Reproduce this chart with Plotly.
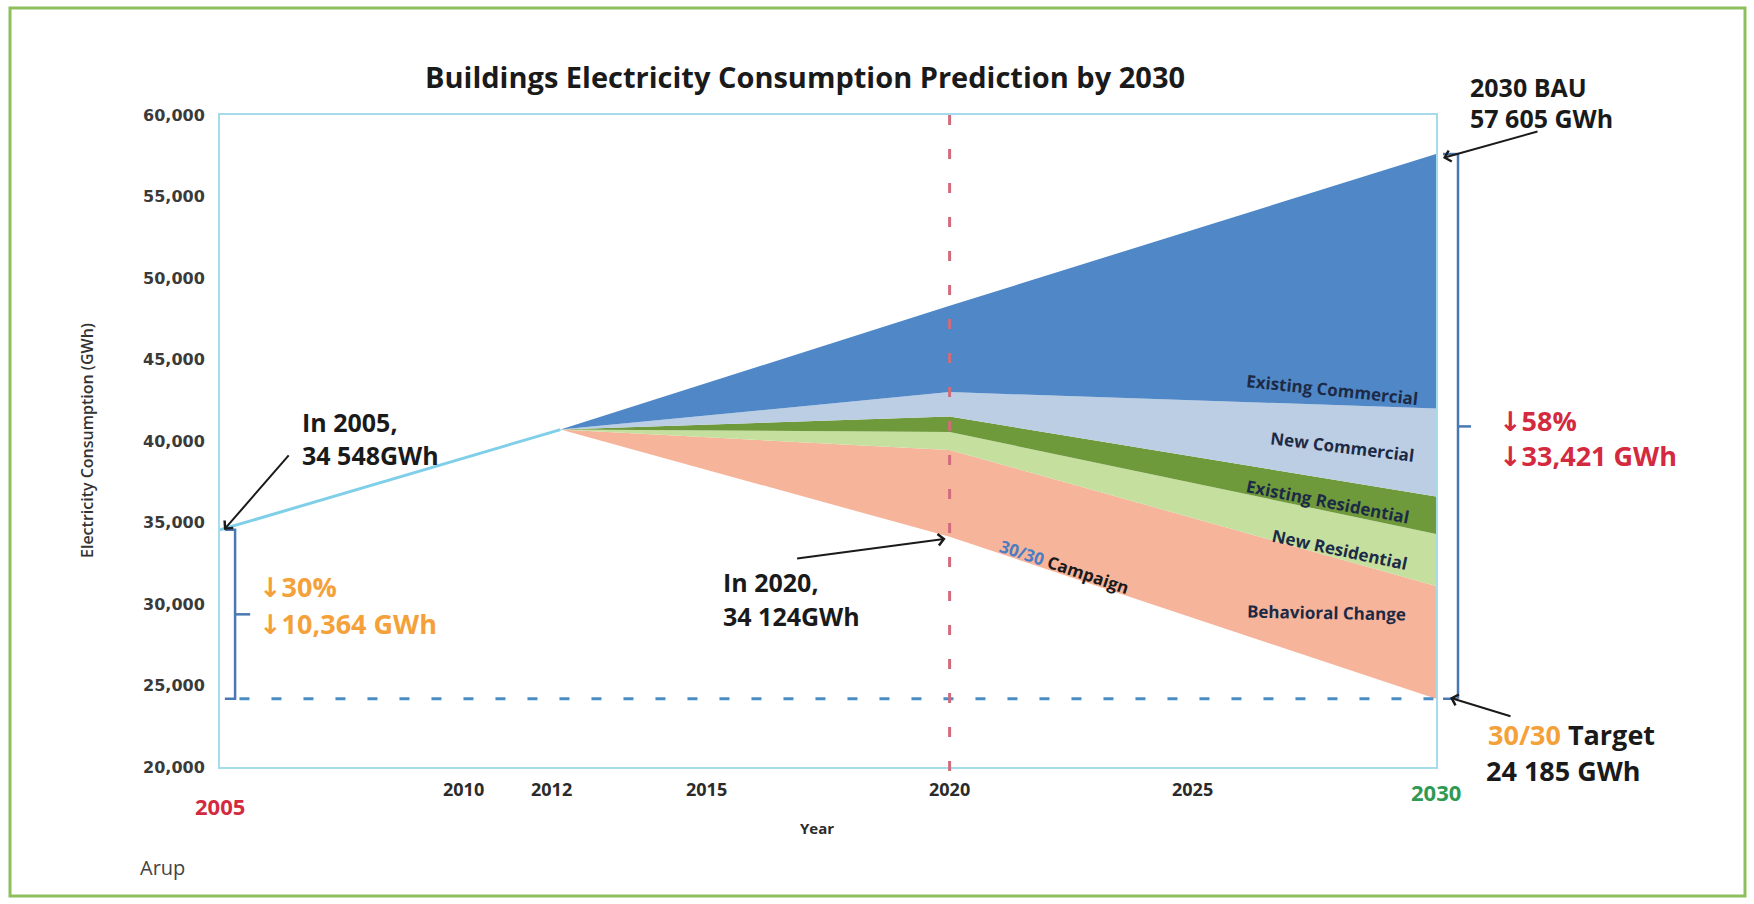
import plotly.graph_objects as go

# ---------------- data ----------------
history_years = [2005, 2012]
history_gwh = [34548, 40700]

proj_years = [2012, 2020, 2030]
bau_gwh = [40700, 48300, 57605]                    # business as usual
after_existing_commercial = [40700, 43000, 42000]  # BAU minus existing-commercial savings
after_new_commercial = [40700, 41500, 36600]
after_existing_residential = [40700, 40550, 34300]
after_new_residential = [40700, 39450, 31100]
campaign_gwh = [40700, 34124, 24185]               # 30/30 campaign path

layer_names = ["Behavioral Change", "New Residential", "Existing Residential",
               "New Commercial", "Existing Commercial"]
layer_colors = ["#f6b49b", "#c5df9f", "#6f9a3c", "#bccee4", "#5088c7"]

y_tick_values = [20000, 25000, 30000, 35000, 40000, 45000, 50000, 55000, 60000]
x_tick_years = [2010, 2012, 2015, 2020, 2025]

start_year, end_year = 2005, 2030
start_gwh = 34548
gwh_2020 = 34124
bau_2030 = 57605
target_gwh = 24185
cut_2005_pct, cut_2005_gwh = 30, 10364
cut_bau_pct, cut_bau_gwh = 58, 33421

# ---------------- page geometry ----------------
W, H = 1754, 904
L, R, T, B = 220, 1436, 115, 767


def px(x):
    return (x - L) / (R - L)


def py(y):
    return (B - y) / (B - T)


FONT = "Open Sans, DejaVu Sans, sans-serif"
DARK = "#1a1a1a"
ORANGE = "#f4a13a"
RED = "#d42a40"
GREEN = "#2f9a52"
NAVY = "#1c2a45"
BRACKET = "#4a78b5"


def sp(v):
    return f"{v:,}".replace(",", " ")


fig = go.Figure()

# stacked savings wedges, bottom boundary first
bounds = [campaign_gwh, after_new_residential, after_existing_residential,
          after_new_commercial, after_existing_commercial, bau_gwh]
fig.add_trace(go.Scatter(x=proj_years, y=bounds[0], mode="lines",
                         line=dict(width=0), showlegend=False, hoverinfo="skip"))
for name, color, upper in zip(layer_names, layer_colors, bounds[1:]):
    fig.add_trace(go.Scatter(x=proj_years, y=upper, mode="lines", name=name,
                             line=dict(width=0), fill="tonexty", fillcolor=color,
                             showlegend=False))

# historic consumption line
fig.add_trace(go.Scatter(x=history_years, y=history_gwh, mode="lines",
                         line=dict(color="#7fcfe9", width=3), showlegend=False))

# 30/30 target level
fig.add_trace(go.Scatter(x=[2005.4, end_year], y=[target_gwh, target_gwh], mode="lines",
                         line=dict(color="#4a8cc3", width=3, dash="10px,22px"),
                         showlegend=False))

shapes = []
# 2020 marker, dashed from the top of the box downwards
shapes.append(dict(type="line", xref="x", yref="paper", x0=2020, x1=2020, y0=1, y1=-0.012,
                   line=dict(color="#d06c7c", width=3, dash="10px,24px"), layer="above"))

# bracket between 2005 level and target
bx0, bx1, bx2 = 2005.1, 2005.31, 2005.62
mid = (start_gwh + target_gwh) / 2
for xs, ys in [([bx0, bx1, bx1, bx0], [start_gwh, start_gwh, target_gwh, target_gwh]),
               ([bx1, bx2], [mid, mid])]:
    path = "M " + " L ".join(f"{a},{b}" for a, b in zip(xs, ys))
    shapes.append(dict(type="path", xref="x", yref="y", path=path,
                       line=dict(color=BRACKET, width=2.5)))

# bracket between 2030 BAU and target (outside the plot box)
rx0, rx1, rx2 = px(1443), px(1458), px(1471)
mid2 = (bau_2030 + target_gwh) / 2
shapes.append(dict(type="line", xref="paper", yref="y", x0=rx0, x1=rx1, y0=bau_2030, y1=bau_2030,
                   line=dict(color=BRACKET, width=2.5)))
shapes.append(dict(type="line", xref="paper", yref="y", x0=rx1, x1=rx1, y0=bau_2030, y1=target_gwh,
                   line=dict(color=BRACKET, width=2.5)))
shapes.append(dict(type="line", xref="paper", yref="y", x0=rx0, x1=rx1, y0=target_gwh, y1=target_gwh,
                   line=dict(color=BRACKET, width=2.5)))
shapes.append(dict(type="line", xref="paper", yref="y", x0=rx1, x1=rx2, y0=mid2, y1=mid2,
                   line=dict(color=BRACKET, width=2.5)))

# outer frame
shapes.append(dict(type="rect", xref="paper", yref="paper",
                   x0=px(10), x1=px(1745), y0=py(896), y1=py(8),
                   line=dict(color="#8dbf5c", width=3), layer="below"))

ann = []


def text(t, x, y, size, color=DARK, xanchor="left", angle=0, bold=True):
    ann.append(dict(text=f"<b>{t}</b>" if bold else t, x=px(x), y=py(y),
                    xref="paper", yref="paper", xanchor=xanchor, yanchor="middle",
                    showarrow=False, textangle=angle,
                    font=dict(family=FONT, size=size, color=color)))


def arrow(x, y, ax, ay, xshift=0, yshift=0):
    ann.append(dict(text="", x=x, y=y, xref="x", yref="y", ax=ax, ay=ay,
                    showarrow=True, arrowhead=4, arrowsize=1.1, arrowwidth=2,
                    arrowcolor=DARK, xshift=xshift, yshift=yshift))


# title
text("Buildings Electricity Consumption Prediction by 2030", 805, 76, 29, xanchor="center")

# x labels
text(str(start_year), 220, 806, 22, color=RED, xanchor="center")
for yr in x_tick_years:
    xp = L + (yr - start_year) / (end_year - start_year) * (R - L)
    if yr == 2012:
        xp -= 9
    text(str(yr), xp, 789, 18, color="#2b2b2b", xanchor="center")
text(str(end_year), 1436, 792, 22, color=GREEN, xanchor="center")
text("Year", 817, 828, 15, color="#2b2b2b", xanchor="center")
text("Arup", 162, 867, 20, color="#444444", xanchor="center", bold=False)

# y title
ann.append(dict(text="Electricity Consumption (GWh)", x=px(87), y=py(441),
                xref="paper", yref="paper", xanchor="center", yanchor="middle",
                showarrow=False, textangle=-90,
                font=dict(family=FONT, size=16, color="#333333", weight=600)))

# callouts
text("In 2005,", 300, 422, 25)
text(f"{sp(start_gwh)}GWh", 300, 455, 25)
arrow(start_year, start_gwh, 66, -76, xshift=4)

text("In 2020,", 721, 582, 25)
text(f"{sp(gwh_2020)}GWh", 721, 616, 25)
arrow(2020, gwh_2020, -150, 20, xshift=-4, yshift=-2)

text(f"{end_year} BAU", 1468, 87, 25)
text(f"{sp(bau_2030)} GWh", 1468, 118, 25)
arrow(end_year, bau_2030, 96, -27, xshift=7, yshift=-4)

text(f"<span style='color:{ORANGE}'>30/30</span> Target", 1486, 734, 27)
text(f"{sp(target_gwh)} GWh", 1484, 770, 27)
arrow(end_year, target_gwh, 62, 19, xshift=14, yshift=1)

text(f"↓{cut_2005_pct}%", 257, 586, 27, color=ORANGE)
text(f"↓{cut_2005_gwh:,} GWh", 257, 623, 27, color=ORANGE)
text(f"↓{cut_bau_pct}%", 1497, 420, 27, color=RED)
text(f"↓{cut_bau_gwh:,} GWh", 1497, 455, 27, color=RED)

# layer labels
text(layer_names[4], 1332, 389, 17, color=NAVY, xanchor="center", angle=6)
text(layer_names[3], 1342, 447, 17, color=NAVY, xanchor="center", angle=7)
text(layer_names[2], 1328, 501, 17, color=NAVY, xanchor="center", angle=11)
text(layer_names[1], 1340, 549, 17, color=NAVY, xanchor="center", angle=12)
text(layer_names[0], 1326, 612, 17, color=NAVY, xanchor="center", angle=1)
text("<span style='color:#4a7cc4'>30/30</span> Campaign", 1064, 566, 17, color=DARK,
     xanchor="center", angle=18.5)

fig.update_layout(
    width=W, height=H, autosize=False,
    margin=dict(l=L, r=W - R, t=T, b=H - B),
    paper_bgcolor="white", plot_bgcolor="white",
    shapes=shapes, annotations=ann, showlegend=False,
    xaxis=dict(range=[start_year, end_year], showgrid=False, zeroline=False,
               showticklabels=False, ticks="", showline=True, mirror=True,
               linecolor="#a6dbec", linewidth=2),
    yaxis=dict(range=[20000, 60000], showgrid=False, zeroline=False,
               tickvals=y_tick_values, ticktext=[f"{v:,}" for v in y_tick_values],
               ticks="", ticklabelstandoff=10,
               tickfont=dict(family="DejaVu Sans", size=16, color="#3a3a3a", weight="bold"),
               showline=True, mirror=True, linecolor="#a6dbec", linewidth=2),
)

fig.write_html("out.html")
